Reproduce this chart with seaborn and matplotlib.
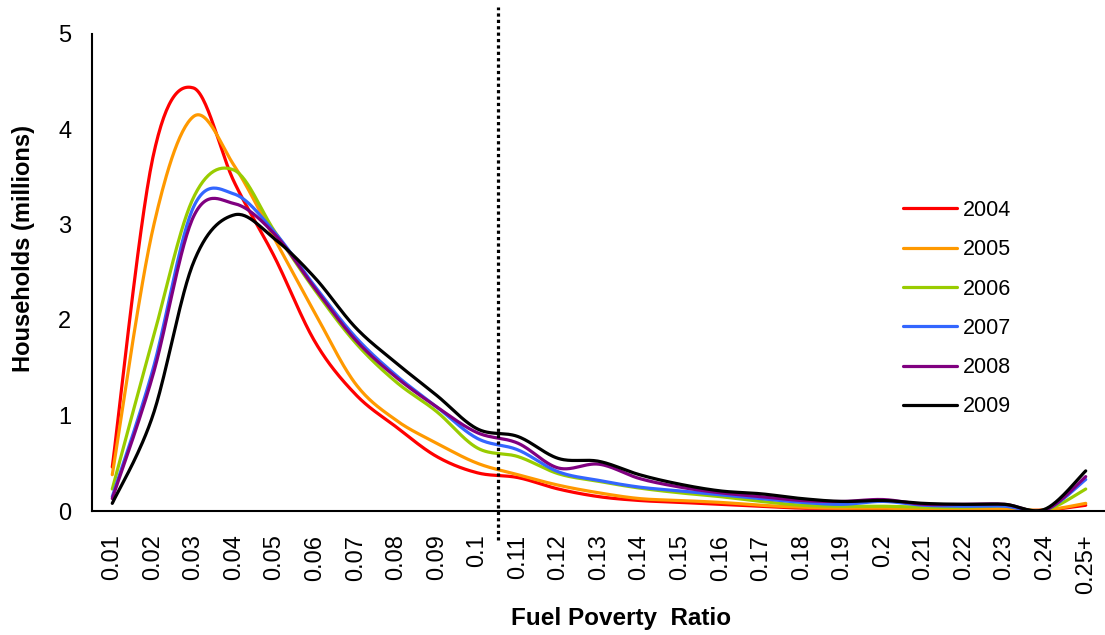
import numpy as np
import pandas as pd
import matplotlib
matplotlib.use("Agg")
import matplotlib.pyplot as plt
import seaborn as sns

# ---------------- data ----------------
categories = ["0.01", "0.02", "0.03", "0.04", "0.05", "0.06", "0.07", "0.08", "0.09", "0.1",
              "0.11", "0.12", "0.13", "0.14", "0.15", "0.16", "0.17", "0.18", "0.19", "0.2",
              "0.21", "0.22", "0.23", "0.24", "0.25+"]
years = ["2004", "2005", "2006", "2007", "2008", "2009"]
y2004 = [0.46, 3.70, 4.43, 3.45, 2.66, 1.77, 1.22, 0.88, 0.57, 0.40, 0.35, 0.23, 0.15,
         0.11, 0.09, 0.07, 0.05, 0.03, 0.03, 0.02, 0.01, 0.01, 0.01, 0.01, 0.06]
y2005 = [0.38, 2.95, 4.13, 3.62, 2.85, 2.07, 1.33, 0.95, 0.71, 0.50, 0.38, 0.27, 0.19,
         0.13, 0.11, 0.09, 0.06, 0.04, 0.03, 0.03, 0.02, 0.02, 0.02, 0.01, 0.08]
y2006 = [0.23, 1.80, 3.28, 3.57, 2.93, 2.31, 1.76, 1.35, 1.04, 0.66, 0.57, 0.39, 0.31,
         0.24, 0.19, 0.15, 0.10, 0.06, 0.05, 0.05, 0.04, 0.04, 0.05, 0.01, 0.23]
y2007 = [0.15, 1.48, 3.18, 3.32, 2.92, 2.35, 1.82, 1.42, 1.09, 0.76, 0.64, 0.41, 0.32,
         0.25, 0.21, 0.17, 0.13, 0.09, 0.07, 0.10, 0.06, 0.05, 0.05, 0.01, 0.33]
y2008 = [0.13, 1.42, 3.08, 3.22, 2.90, 2.33, 1.79, 1.40, 1.09, 0.82, 0.71, 0.45, 0.49,
         0.34, 0.25, 0.19, 0.15, 0.11, 0.10, 0.12, 0.07, 0.07, 0.07, 0.01, 0.36]
y2009 = [0.08, 1.00, 2.60, 3.10, 2.85, 2.44, 1.92, 1.55, 1.21, 0.86, 0.78, 0.55, 0.52,
         0.38, 0.28, 0.21, 0.18, 0.13, 0.10, 0.11, 0.08, 0.07, 0.07, 0.02, 0.42]
series = [y2004, y2005, y2006, y2007, y2008, y2009]
colors = ["#FF0000", "#FF9900", "#99CC00", "#3366FF", "#800080", "#000000"]
threshold_label = "0.1"   # fuel poverty threshold (line drawn after this category)
yticks = [0, 1, 2, 3, 4, 5]


def smooth(xs, ys, n=30):
    """Excel-like smoothed line: Catmull-Rom Bezier through every data point."""
    P = np.column_stack([xs, ys]).astype(float)
    P = np.vstack([P[0], P, P[-1]])
    out = []
    for i in range(1, len(P) - 2):
        p0, p1, p2, p3 = P[i - 1], P[i], P[i + 1], P[i + 2]
        b1 = p1 + (p2 - p0) / 6.0
        b2 = p2 - (p3 - p1) / 6.0
        t = np.linspace(0, 1, n, endpoint=(i == len(P) - 3))[:, None]
        seg = ((1 - t) ** 3) * p1 + 3 * ((1 - t) ** 2) * t * b1 + 3 * (1 - t) * t ** 2 * b2 + t ** 3 * p2
        out.append(seg)
    out = np.vstack(out)
    return out[:, 0], out[:, 1]


xpos = np.arange(len(categories))
frames = []
for yr, vals in zip(years, series):
    sx, sy = smooth(xpos, vals)
    frames.append(pd.DataFrame({"x": sx, "y": sy, "year": yr}))
df = pd.concat(frames, ignore_index=True)

# ---------------- style ----------------
sns.set_style("white")
plt.rcParams["font.family"] = ["Liberation Sans", "DejaVu Sans"]
for key in ["text.color", "axes.labelcolor", "xtick.color", "ytick.color"]:
    plt.rcParams[key] = "black"

fig = plt.figure(figsize=(11.05, 6.35), dpi=100)
W, H = 1105, 635
ax = fig.add_axes([92 / W, (H - 511) / H, 1014 / W, 477.5 / H])

sns.lineplot(data=df, x="x", y="y", hue="year", hue_order=years, palette=colors,
             estimator=None, sort=False, units="year", linewidth=2.3, legend=False, ax=ax)

handles = list(ax.get_lines())

# threshold dotted line between "0.1" and "0.11"
thr = categories.index(threshold_label) + 0.5
ax.plot([thr, thr], [-0.3, 5.28], color="black", linewidth=2.3,
        linestyle=(0, (1, 1)), clip_on=False, zorder=5)

ax.set_xlim(-0.5, len(categories) - 0.5)
ax.set_ylim(0, 5)
ax.set_yticks(yticks)
ax.set_yticklabels([str(v) for v in yticks], fontsize=17)
ax.set_xticks(xpos)
ax.set_xticklabels(categories, rotation=90, fontsize=17)
ax.set_xticks(np.arange(-0.5, len(categories), 1.0), minor=True)
ax.tick_params(axis="x", which="major", length=0, pad=17)
ax.tick_params(axis="x", which="minor", length=5, width=1.3, direction="out", color="black")
ax.tick_params(axis="y", which="major", length=6, width=1.3, direction="out", color="black", pad=9)

for s in ["top", "right"]:
    ax.spines[s].set_visible(False)
for s in ["left", "bottom"]:
    ax.spines[s].set_color("black")
    ax.spines[s].set_linewidth(1.5)

ax.set_ylabel("Households (millions)", fontsize=17, fontweight="bold")
ax.yaxis.set_label_coords(-0.056, 0.549)
ax.set_xlabel("Fuel Poverty  Ratio", fontsize=17.5, fontweight="bold")
ax.xaxis.set_label_coords(0.5217, -0.20)

leg = ax.legend(handles, years, loc="upper left", bbox_to_anchor=(903 / W, 1 - 200 / H),
                bbox_transform=fig.transFigure, frameon=False, fontsize=15.5,
                handlelength=2.5, handletextpad=0.3, labelspacing=0.85,
                borderpad=0, borderaxespad=0)

fig.savefig("out.png", dpi=100)
